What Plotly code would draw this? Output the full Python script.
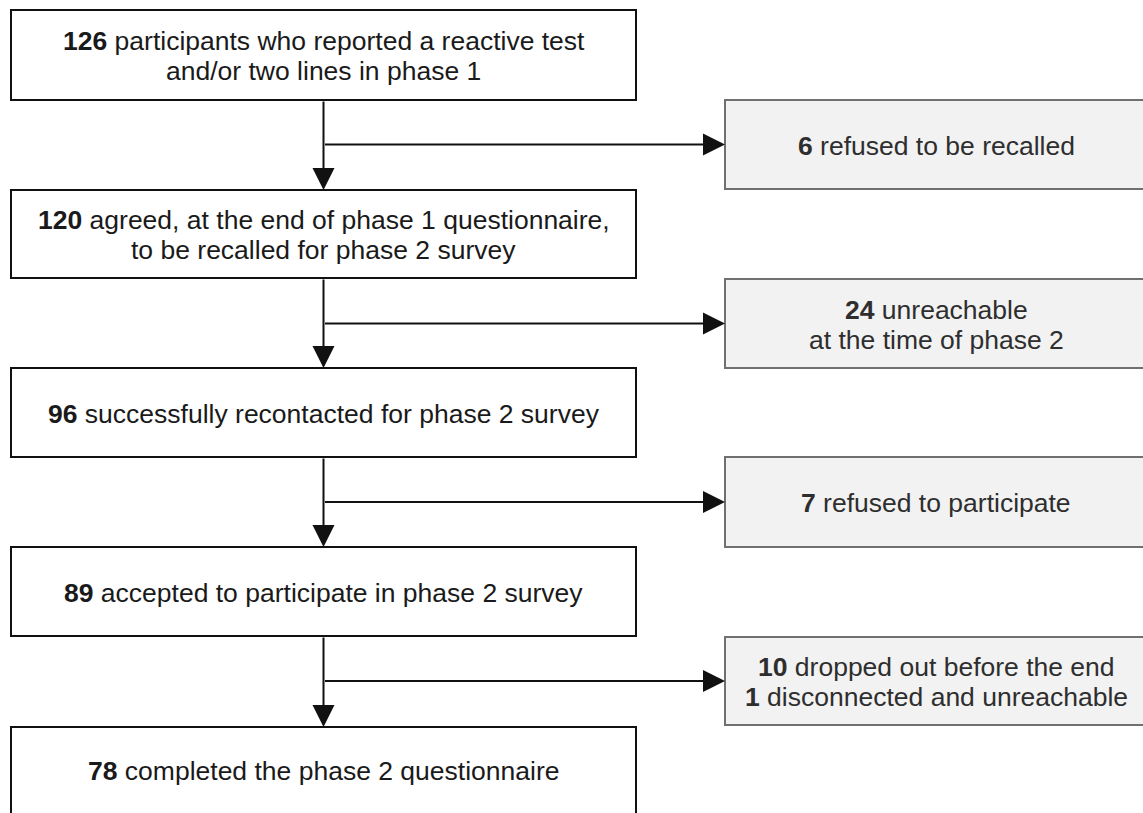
import plotly.graph_objects as go

# ---- data ----
main_counts = ["126", "120", "96", "89", "78"]
main_lines = [
    [" participants who reported a reactive test", "and/or two lines in phase 1"],
    [" agreed, at the end of phase 1 questionnaire,", "to be recalled for phase 2 survey"],
    [" successfully recontacted for phase 2 survey"],
    [" accepted to participate in phase 2 survey"],
    [" completed the phase 2 questionnaire"],
]
side_counts = [["6"], ["24"], ["7"], ["10", "1"]]
side_lines = [
    [" refused to be recalled"],
    [" unreachable", "at the time of phase 2"],
    [" refused to participate"],
    [" dropped out before the end", " disconnected and unreachable"],
]

# ---- layout geometry (page pixels) ----
W, H = 1143, 813
main_x0, main_x1 = 11, 636
main_top = [10, 190, 368, 547, 727]
main_bot = [100, 278, 457, 636, 818]
side_x0, side_x1 = 725, 1150
side_top = [100, 279, 457, 637]
side_bot = [189, 368, 547, 725]
spine_x = 323.5
side_text_x = 936
LINE_GAP = 30
FONT = "Liberation Sans, Arial, sans-serif"
FS = 26.5

fig = go.Figure()
shapes = []
annotations = []


def add_lines(xc, yc, counts, lines, color):
    n = len(lines)
    for j, t in enumerate(lines):
        txt = ("<b>" + counts[j] + "</b>" + t) if j < len(counts) else t
        y = yc + (j - (n - 1) / 2) * LINE_GAP
        annotations.append(dict(x=xc, y=y, xref="x", yref="y", showarrow=False,
                                text=txt, font=dict(family=FONT, size=FS, color=color),
                                align="center", xanchor="center", yanchor="middle"))


for i in range(len(main_counts)):
    shapes.append(dict(type="rect", xref="x", yref="y", x0=main_x0, x1=main_x1,
                       y0=main_top[i], y1=main_bot[i],
                       line=dict(color="#111111", width=2), fillcolor="white", layer="below"))
    yc = (main_top[i] + min(main_bot[i], H)) / 2 + 1
    add_lines((main_x0 + main_x1) / 2, yc, [main_counts[i]], main_lines[i], "#1a1a1a")

for i in range(len(side_counts)):
    shapes.append(dict(type="rect", xref="x", yref="y", x0=side_x0, x1=side_x1,
                       y0=side_top[i], y1=side_bot[i],
                       line=dict(color="#707070", width=2), fillcolor="#f2f2f2", layer="below"))
    add_lines(side_text_x, (side_top[i] + side_bot[i]) / 2 + 1, side_counts[i], side_lines[i], "#2e2e2e")

# arrows: vertical between main boxes, horizontal to side boxes
for i in range(len(main_counts) - 1):
    annotations.append(dict(x=spine_x, y=main_top[i + 1], ax=spine_x, ay=main_bot[i],
                            xref="x", yref="y", axref="x", ayref="y", text="",
                            showarrow=True, arrowhead=2, arrowsize=2.2, arrowwidth=2,
                            arrowcolor="#111111", standoff=0, startstandoff=0))
    ym = (side_top[i] + side_bot[i]) / 2
    annotations.append(dict(x=side_x0, y=ym, ax=spine_x, ay=ym,
                            xref="x", yref="y", axref="x", ayref="y", text="",
                            showarrow=True, arrowhead=2, arrowsize=2.2, arrowwidth=2,
                            arrowcolor="#111111", standoff=0, startstandoff=0))

fig.update_layout(
    width=W, height=H, margin=dict(l=0, r=0, t=0, b=0),
    paper_bgcolor="white", plot_bgcolor="white",
    xaxis=dict(range=[0, W], visible=False, fixedrange=True),
    yaxis=dict(range=[H, 0], visible=False, fixedrange=True),
    shapes=shapes, annotations=annotations, showlegend=False,
)
fig.write_html("out.html", config={"displayModeBar": False},
               post_script="document.body.style.margin='0';document.body.style.overflow='hidden';")
